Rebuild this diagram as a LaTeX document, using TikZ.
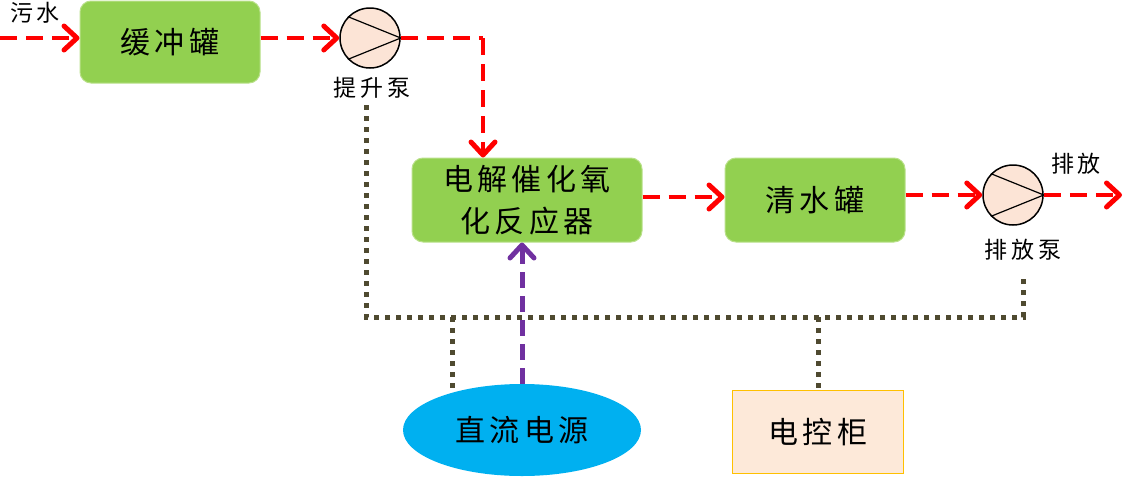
\documentclass[tikz,border=0pt]{standalone}
\usepackage{fontspec}
\setmainfont{Noto Sans CJK SC}
\newfontfamily\bigcjk[LetterSpace=14]{Noto Sans CJK SC}
\newfontfamily\smallcjk[LetterSpace=16]{Noto Sans CJK SC}
\usetikzlibrary{arrows.meta,shapes.geometric}
\definecolor{boxgreen}{HTML}{92D050}
\definecolor{boxgreenline}{HTML}{B9E08A}
\definecolor{flowred}{HTML}{FF0000}
\definecolor{powerpurple}{HTML}{7030A0}
\definecolor{ctrlline}{HTML}{4F4A30}
\definecolor{pumpfill}{HTML}{FCE4D6}
\definecolor{cabfill}{HTML}{FDE9D9}
\definecolor{cabline}{HTML}{FFC000}
\definecolor{psucyan}{HTML}{00B0F0}
\tikzset{
  bigtext/.style={font=\bigcjk\fontsize{30}{42}\selectfont},
  smalltext/.style={font=\smallcjk\fontsize{23}{26}\selectfont},
  greenbox/.style={rectangle, rounded corners=11pt, fill=boxgreen, draw=boxgreenline, line width=1pt, bigtext, align=center, inner sep=0pt},
  pump/.style={circle, fill=pumpfill, draw=black, line width=1.5pt, minimum size=60pt, inner sep=0pt},
  tipa/.style={-{Straight Barb[length=13pt,width=24pt,line width=5pt,round]}},
  flow/.style={draw=flowred, line width=4pt, dash pattern=on 17pt off 9pt, tipa},
  flowplain/.style={draw=flowred, line width=4pt, dash pattern=on 17pt off 9pt},
  power/.style={draw=powerpurple, line width=5pt, dash pattern=on 16pt off 8pt, tipa},
  ctrl/.style={draw=ctrlline, line width=5pt, dash pattern=on 5pt off 6pt},
}
\begin{document}
\begin{tikzpicture}[x=1pt,y=-1pt]
\useasboundingbox (0,0) rectangle (1125,477);

% nodes
\node[greenbox, minimum width=180pt, minimum height=82pt] (buf) at (170,42) {缓冲罐};
\node[greenbox, minimum width=230pt, minimum height=84pt] (reac) at (527,200) {电解催化氧\\化反应器};
\node[greenbox, minimum width=180pt, minimum height=84pt] (clean) at (815,200) {清水罐};
\node[pump] (p1) at (370,38) {};
\node[pump] (p2) at (1013,195) {};
\node[ellipse, fill=psucyan, minimum width=238pt, minimum height=92pt, inner sep=0pt, bigtext] (psu) at (522,430) {直流电源};
\node[rectangle, fill=cabfill, draw=cabline, line width=1.2pt, minimum width=171pt, minimum height=83pt, bigtext] (cab) at (818,432) {电控柜};

% labels
\node[smalltext] (lwater) at (35,13) {污水};
\node[smalltext] (lp1) at (372,88) {提升泵};
\node[smalltext] (lp2) at (1023,250) {排放泵};
\node[smalltext] (lout) at (1076,164) {排放};

% pump symbols
\draw[line width=1.2pt] (p1.136) -- (p1.east) -- (p1.-136);
\draw[line width=1.2pt] (p2.136) -- (p2.east) -- (p2.-136);

% coordinates
\coordinate (in) at (0,38);
\coordinate (out) at (1122,195);
\coordinate (turn) at (483,38);
\coordinate (c1) at (366,105);
\coordinate (c2) at (1023,274);
\coordinate (bus) at (700,317);
\coordinate (br1) at (452,317);
\coordinate (br1e) at (452,391);

% flow connectors
\draw[flow] (in) -- (buf.west |- in);
\draw[flow] (buf.east |- p1) -- (p1.west);
\draw[flowplain] (p1.east) -- (turn);
\draw[flow] (turn) -- (turn |- reac.north);
\draw[flow] (reac.east |- 0,197) -- (clean.west |- 0,197);
\draw[flow] (clean.east |- p2) -- (p2.west);
\draw[flow] (p2.east) -- (out);

% power connector
\draw[power] (psu.north) -- (psu.north |- reac.south);

% control lines
\draw[ctrl] (c1) |- (bus) -| (c2);
\draw[ctrl] (br1) -- (br1e);
\draw[ctrl] (cab.north |- bus) -- (cab.north);
\end{tikzpicture}
\end{document}
